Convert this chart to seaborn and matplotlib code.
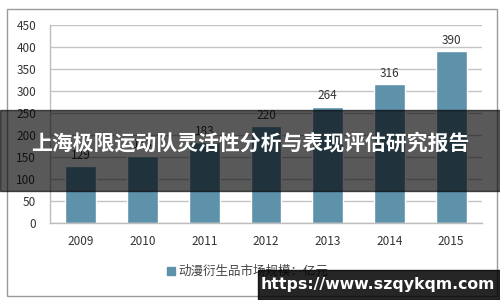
import matplotlib
matplotlib.use("Agg")
import matplotlib.pyplot as plt
import seaborn as sns
import pandas as pd
from matplotlib.patches import Rectangle

years = ["2009", "2010", "2011", "2012", "2013", "2014", "2015"]
values = [129, 153, 183, 220, 264, 316, 390]
series_name = "动漫衍生品市场规模：亿元"
title_text = "上海极限运动队灵活性分析与表现评估研究报告"
watermark = "https://www.szqykqm.com"
yticks = [0, 50, 100, 150, 200, 250, 300, 350, 400, 450]

sns.set_theme(style="white")
plt.rcParams['font.family'] = ['Noto Sans CJK SC', 'DejaVu Sans']

df = pd.DataFrame({"year": years, "value": values, "series": series_name})

fig = plt.figure(figsize=(5, 3), dpi=100)
ax = fig.add_axes([0.1, 0.2567, 0.864, 0.66])
bar_color = "#5E91AA"
sns.barplot(data=df, x="year", y="value", hue="series", palette=[bar_color],
            width=0.5, ax=ax, legend=False, saturation=1)

ax.set_ylim(0, 450)
ax.set_yticks(yticks)
ax.set_xlabel("")
ax.set_ylabel("")
ax.grid(axis="y", color="#C4C4C4", linewidth=1)
ax.set_axisbelow(True)
for s in ["top", "right"]:
    ax.spines[s].set_visible(False)
for s in ["left", "bottom"]:
    ax.spines[s].set_color("#BDBDBD")
    ax.spines[s].set_linewidth(1)
ax.tick_params(axis="both", length=0, labelsize=8.5, colors="#333333")
ax.tick_params(axis="x", pad=9)
ax.tick_params(axis="y", pad=10)

for i, v in enumerate(values):
    ax.text(i, v + 10, str(v), ha="center", va="bottom", fontsize=8.5, color="#333333")

# legend
fig.patches.append(Rectangle((167/500, 1-275/300), 8/500, 8/300, transform=fig.transFigure,
                             color=bar_color, figure=fig))
fig.text(178/500, 1-271/300, series_name, fontsize=9, color="#444444", va="center", ha="left")

# outer border
fig.patches.append(Rectangle((7/500, 1-296/300), 490/500, 287/300, transform=fig.transFigure,
                             fill=False, edgecolor="#9A9A9A", linewidth=1, figure=fig))

# banner overlay
fig.patches.append(Rectangle((0, 1-191/300), 1, 81/300, transform=fig.transFigure,
                             color="black", alpha=0.65, figure=fig, zorder=10))
fig.text(0.5, 1-143/300, title_text, fontsize=15, fontweight="bold", color="white",
         ha="center", va="center", zorder=11)

# watermark
fig.patches.append(Rectangle((258/500, 0), 242/500, 30/300, transform=fig.transFigure,
                             color="black", alpha=0.85, figure=fig, zorder=10))
fig.text(378/500, 1-285/300, watermark, fontsize=11.3, fontweight="bold", color="white",
         ha="center", va="center", zorder=11, family="DejaVu Sans")

fig.savefig("out.png", dpi=100)
